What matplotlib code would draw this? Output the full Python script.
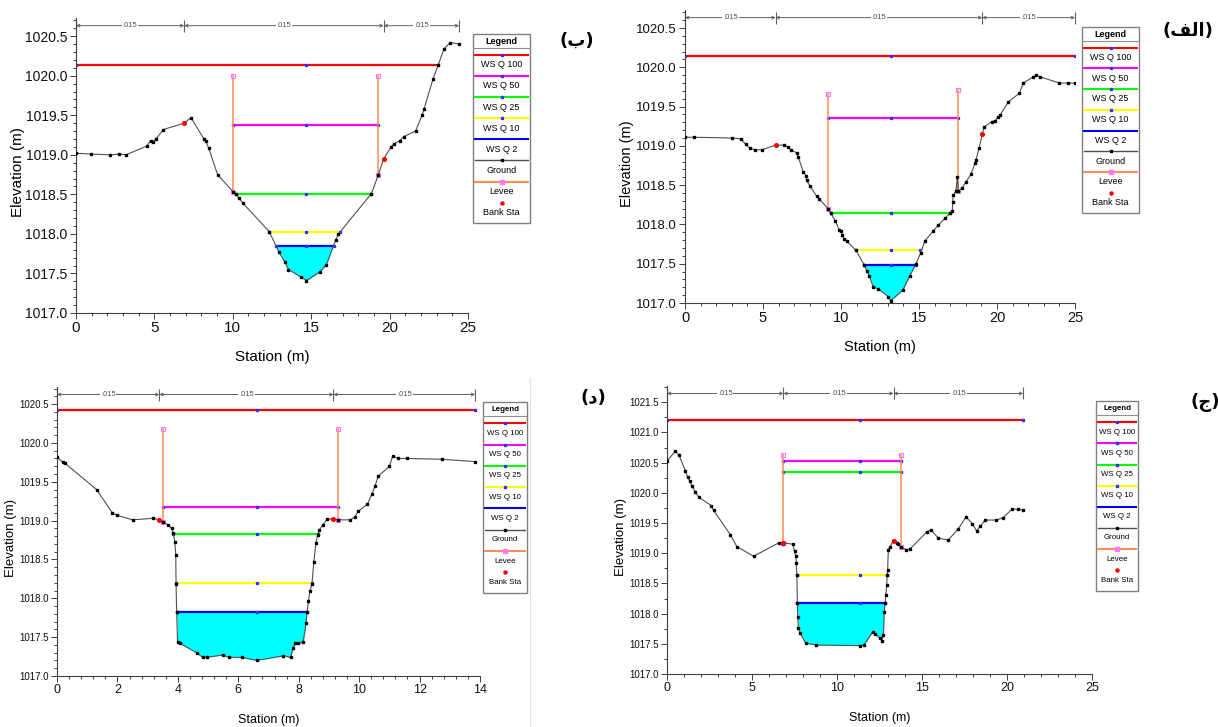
import numpy as np
import matplotlib
matplotlib.use("Agg")
import matplotlib.pyplot as plt
import matplotlib.transforms as mtransforms
from matplotlib.ticker import MultipleLocator, FormatStrFormatter
from matplotlib.patches import Rectangle
from matplotlib.lines import Line2D

# ---------------- data ----------------
ws_names = ["WS Q 100", "WS Q 50", "WS Q 25", "WS Q 10", "WS Q 2"]
legend_labels = ws_names + ["Ground", "Levee", "Bank Sta"]
n_values = [".015", ".015", ".015"]

# panel (الف)
alef_sta = [0.0, 0.60, 3.03, 3.59, 3.89, 4.17, 4.49, 4.91, 5.81, 6.37,
            6.58, 6.79, 7.16, 7.26, 7.58, 7.76, 7.80, 8.01, 8.44, 8.59,
            9.17, 9.36, 9.62, 9.89, 10.00, 10.09, 10.21, 10.36, 10.96, 11.50,
            11.65, 11.82, 12.07, 12.39, 13.03, 13.18, 13.95, 14.42, 14.81, 15.11,
            15.38, 15.92, 16.24, 16.67, 16.99, 17.14, 17.16, 17.20, 17.37, 17.46,
            17.52, 17.74, 18.01, 18.33, 18.59, 18.65, 18.85, 19.06, 19.17, 19.66,
            19.87, 20.09, 20.19, 20.73, 21.43, 21.69, 22.33, 22.50, 22.76, 24.00,
            24.57, 25.00]
alef_elev = [1019.11, 1019.11, 1019.10, 1019.09, 1019.02, 1018.97, 1018.95, 1018.95, 1019.01, 1019.01,
             1018.99, 1018.95, 1018.91, 1018.86, 1018.67, 1018.62, 1018.56, 1018.49, 1018.36, 1018.33,
             1018.20, 1018.14, 1018.05, 1017.93, 1017.92, 1017.86, 1017.81, 1017.79, 1017.67, 1017.48,
             1017.41, 1017.34, 1017.20, 1017.18, 1017.08, 1017.03, 1017.16, 1017.35, 1017.50, 1017.64,
             1017.79, 1017.92, 1017.99, 1018.08, 1018.14, 1018.17, 1018.29, 1018.37, 1018.43, 1018.61,
             1018.42, 1018.46, 1018.54, 1018.64, 1018.78, 1018.82, 1018.97, 1019.15, 1019.24, 1019.31,
             1019.32, 1019.37, 1019.39, 1019.56, 1019.67, 1019.80, 1019.88, 1019.90, 1019.88, 1019.80,
             1019.80, 1019.80]
alef_banks = [5.81, 19.06]
alef_levee_sta = [9.17, 17.52]
alef_levee_top = [1019.66, 1019.71]
alef_ws = [1020.14, 1019.35, 1018.14, 1017.67, 1017.48]
alef_ws_left = [0.0, 9.17, 9.36, 10.96, 11.50]
alef_ws_right = [25.0, 17.52, 16.99, 15.06, 14.81]

# panel (ب)
be_sta = [0.0, 0.93, 2.17, 2.74, 3.19, 4.50, 4.76, 4.89, 5.10, 5.57,
          6.90, 7.33, 8.16, 8.26, 8.47, 9.03, 10.03, 10.20, 10.39, 10.64,
          12.32, 12.94, 13.30, 13.55, 14.38, 14.70, 15.55, 15.97, 16.55, 16.74,
          18.84, 19.27, 19.62, 20.11, 20.28, 20.65, 20.90, 21.66, 22.07, 22.20,
          22.77, 23.09, 23.47, 23.87, 24.43]
be_elev = [1019.02, 1019.01, 1019.00, 1019.01, 1019.00, 1019.11, 1019.18, 1019.16, 1019.20, 1019.32,
           1019.40, 1019.47, 1019.20, 1019.18, 1019.08, 1018.75, 1018.53, 1018.50, 1018.45, 1018.39,
           1018.03, 1017.77, 1017.65, 1017.55, 1017.45, 1017.41, 1017.52, 1017.61, 1017.92, 1018.00,
           1018.51, 1018.74, 1018.95, 1019.10, 1019.14, 1019.18, 1019.23, 1019.30, 1019.50, 1019.58,
           1019.96, 1020.13, 1020.34, 1020.42, 1020.40]
be_banks = [6.90, 19.62]
be_levee_sta = [10.03, 19.27]
be_levee_top = [1020.0, 1020.0]
be_ws = [1020.13, 1019.38, 1018.50, 1018.03, 1017.85]
be_ws_left = [0.0, 10.03, 10.20, 12.32, 12.77]
be_ws_right = [23.09, 19.27, 18.80, 16.82, 16.44]

# panel (ج)
jim_sta = [0.0, 0.49, 0.69, 1.08, 1.21, 1.33, 1.47, 1.66, 1.86, 2.60,
           2.74, 3.72, 4.11, 5.09, 6.56, 6.81, 6.91, 7.40, 7.50, 7.58,
           7.60, 7.64, 7.67, 7.69, 7.73, 7.83, 8.16, 8.77, 11.35, 11.59,
           12.10, 12.24, 12.53, 12.63, 12.73, 12.78, 12.82, 12.88, 12.92, 12.96,
           12.98, 13.02, 13.12, 13.31, 13.51, 13.61, 13.74, 14.06, 14.29, 15.27,
           15.52, 15.96, 16.54, 17.13, 17.58, 17.97, 18.21, 18.44, 18.70, 19.38,
           19.77, 20.30, 20.65, 20.95]
jim_elev = [1020.53, 1020.69, 1020.63, 1020.37, 1020.26, 1020.20, 1020.11, 1020.02, 1019.93, 1019.79,
            1019.71, 1019.31, 1019.11, 1018.95, 1019.17, 1019.16, 1019.17, 1019.15, 1019.03, 1018.95,
            1018.84, 1018.64, 1018.17, 1017.95, 1017.76, 1017.68, 1017.51, 1017.48, 1017.47, 1017.48,
            1017.70, 1017.67, 1017.59, 1017.55, 1017.64, 1018.03, 1018.17, 1018.31, 1018.48, 1018.64,
            1018.73, 1019.06, 1019.11, 1019.20, 1019.17, 1019.15, 1019.11, 1019.06, 1019.07, 1019.35,
            1019.39, 1019.25, 1019.22, 1019.40, 1019.60, 1019.49, 1019.37, 1019.45, 1019.55, 1019.55,
            1019.59, 1019.73, 1019.73, 1019.71]
jim_banks = [6.85, 13.33]
jim_levee_sta = [6.85, 13.74]
jim_levee_top = [1020.63, 1020.63]
jim_ws = [1021.21, 1020.52, 1020.34, 1018.64, 1018.17]
jim_ws_left = [0.0, 6.85, 6.85, 7.64, 7.67]
jim_ws_right = [20.95, 13.74, 13.74, 12.96, 12.82]

# panel (د)
dal_sta = [0.0, 0.19, 0.26, 1.31, 1.83, 1.97, 2.50, 3.19, 3.39, 3.52,
           3.66, 3.80, 3.84, 3.90, 3.93, 3.94, 3.96, 3.99, 4.07, 4.62,
           4.82, 4.95, 5.48, 5.70, 6.11, 6.61, 7.49, 7.73, 7.82, 7.88,
           7.99, 8.15, 8.24, 8.28, 8.32, 8.37, 8.44, 8.50, 8.57, 8.63,
           8.68, 8.81, 8.95, 9.15, 9.31, 9.70, 9.86, 9.97, 10.27, 10.42,
           10.52, 10.63, 11.00, 11.11, 11.30, 11.57, 12.73, 13.84]
dal_elev = [1019.82, 1019.75, 1019.74, 1019.40, 1019.10, 1019.07, 1019.01, 1019.03, 1019.01, 1018.98,
            1018.95, 1018.90, 1018.84, 1018.73, 1018.56, 1018.19, 1017.83, 1017.44, 1017.42, 1017.30,
            1017.24, 1017.24, 1017.27, 1017.24, 1017.24, 1017.20, 1017.26, 1017.24, 1017.36, 1017.42,
            1017.42, 1017.44, 1017.68, 1017.83, 1017.96, 1018.09, 1018.19, 1018.47, 1018.71, 1018.82,
            1018.88, 1018.95, 1019.02, 1019.02, 1019.01, 1019.01, 1019.05, 1019.12, 1019.21, 1019.34,
            1019.44, 1019.57, 1019.70, 1019.83, 1019.80, 1019.80, 1019.79, 1019.76]
dal_banks = [3.39, 9.15]
dal_levee_sta = [3.52, 9.31]
dal_levee_top = [1020.18, 1020.18]
dal_ws = [1020.43, 1019.17, 1018.83, 1018.20, 1017.83]
dal_ws_left = [0.0, 3.52, 3.84, 3.94, 3.96]
dal_ws_right = [13.84, 9.31, 8.63, 8.44, 8.28]

# ---------------- styles ----------------
ws_colors = ["#ff0000", "#ff00ff", "#00ff00", "#ffff00", "#0000ff"]
ground_color = "#505050"
levee_color = "#ff8c55"
levee_mark = "#ff77ff"
W, H = 1218, 727
font = "Liberation Sans"
plt.rcParams["font.family"] = [font, "DejaVu Sans"]

fig = plt.figure(figsize=(W / 100, H / 100), dpi=100)


def px_axes(left, top, right, bottom):
    return fig.add_axes([left / W, 1 - bottom / H, (right - left) / W, (bottom - top) / H])


def draw_section(ax, sta, elev, banks, lev_sta, lev_top, ws, ws_l, ws_r,
                 fs, xfs, xmax, ytop, xmaj, xmin, ymin):
    sta = np.array(sta)
    elev = np.array(elev)
    ax.set_xlim(0, xmax)
    ax.set_ylim(1017.0, ytop)

    # water fill under the lowest WS
    l, r = ws_l[-1], ws_r[-1]
    inside = (sta > l) & (sta < r)
    fx = np.concatenate([[l], sta[inside], [r]])
    fy = np.concatenate([[np.interp(l, sta, elev)], elev[inside], [np.interp(r, sta, elev)]])
    ax.fill_between(fx, fy, ws[-1], color="#00ffff", lw=0, zorder=1)

    # water surfaces
    thalweg = sta[np.argmin(elev)]
    for i, (z, a, b) in enumerate(zip(ws, ws_l, ws_r)):
        ax.plot([a, b], [z, z], color=ws_colors[i], lw=1.6, zorder=2)
        ax.plot([a, thalweg, b], [z, z, z], ls="none", marker="s", ms=1.4,
                color="#3030ff", zorder=2.5)

    # levees
    for s, top in zip(lev_sta, lev_top):
        bot = np.interp(s, sta, elev)
        ax.plot([s, s], [bot, top], color=levee_color, lw=1.1, zorder=3)
        ax.plot([s, s], [bot, top], ls="none", marker="s", ms=3.0, mfc="none",
                mec=levee_mark, mew=0.8, zorder=3.5)

    # ground
    ax.plot(sta, elev, color=ground_color, lw=0.8, marker="s", ms=2.0,
            mfc="black", mec="black", zorder=4)
    ax.plot(banks, np.interp(banks, sta, elev), ls="none", marker="o", ms=2.6,
            color="#ff0000", zorder=5)

    # Manning's n bar
    trans = mtransforms.blended_transform_factory(ax.transData, ax.transAxes)
    edges = [sta[0]] + list(banks) + [sta[-1]]
    ybar = 0.974
    for a, b, n in zip(edges[:-1], edges[1:], n_values):
        ax.annotate("", xy=(a, ybar), xytext=(b, ybar), xycoords=trans, textcoords=trans,
                    arrowprops=dict(arrowstyle="<->", color="#606060", lw=0.7,
                                    shrinkA=0, shrinkB=0, mutation_scale=5))
        ax.text((a + b) / 2, ybar, n, transform=trans, ha="center", va="center",
                fontsize=5.5, color="#505050",
                bbox=dict(facecolor="white", edgecolor="none", pad=0.6))
    ax.plot(edges, [ybar] * len(edges), transform=trans, ls="none", marker="|",
            ms=8, mew=0.8, color="#606060", clip_on=False)

    for sp in ["top", "right"]:
        ax.spines[sp].set_visible(False)
    for sp in ["left", "bottom"]:
        ax.spines[sp].set_color("#404040")
        ax.spines[sp].set_linewidth(0.8)
    ax.xaxis.set_major_locator(MultipleLocator(xmaj))
    ax.xaxis.set_minor_locator(MultipleLocator(xmin))
    ax.yaxis.set_major_locator(MultipleLocator(0.5))
    ax.yaxis.set_minor_locator(MultipleLocator(ymin))
    ax.yaxis.set_major_formatter(FormatStrFormatter("%.1f"))
    ax.tick_params(which="both", direction="out", colors="#404040", width=0.7,
                   labelcolor="#111111", pad=2)
    ax.tick_params(axis="y", labelsize=fs)
    ax.tick_params(axis="x", labelsize=xfs)
    ax.tick_params(which="major", length=4)
    ax.tick_params(which="minor", length=2)


def draw_legend(box, fs):
    lax = px_axes(*box)
    lax.set_xlim(0, 1)
    lax.set_ylim(1, 0)
    lax.axis("off")
    lax.add_patch(Rectangle((0, 0), 1, 1, transform=lax.transAxes, fill=False,
                            ec="#808080", lw=1.0, clip_on=False))
    lax.text(0.5, 0.038, "Legend", ha="center", va="center", fontsize=fs,
             weight="bold")
    lax.plot([0, 1], [0.075, 0.075], color="#909090", lw=0.8)
    step = 0.1115
    for i, lab in enumerate(legend_labels):
        yl = step * (i + 1)
        if i < 5:
            lax.plot([0.04, 0.96], [yl, yl], color=ws_colors[i], lw=1.5)
            if i < 4:
                lax.plot(0.5, yl, marker="s", ms=1.5, color="#3030ff")
        elif i == 5:
            lax.plot([0.04, 0.96], [yl, yl], color=ground_color, lw=1.0)
            lax.plot(0.5, yl, marker="s", ms=2.0, color="black")
        elif i == 6:
            lax.plot([0.04, 0.96], [yl, yl], color=levee_color, lw=1.5)
            lax.plot(0.5, yl, marker="s", ms=3.0, color=levee_mark)
        else:
            lax.plot(0.5, yl, marker="o", ms=2.2, color="#ff0000")
        lax.text(0.5, yl + 0.052, lab, ha="center", va="center", fontsize=fs)


# (ب) top-left
ax1 = px_axes(76, 18, 468, 313)
draw_section(ax1, be_sta, be_elev, be_banks, be_levee_sta, be_levee_top,
             be_ws, be_ws_left, be_ws_right, 10, 11, 25, 1020.73, 5, 1, 0.1)
fig.text(18 / W, 1 - 172 / H, "Elevation (m)", rotation=90, ha="center", va="center",
         fontsize=11)
fig.text(272 / W, 1 - 357 / H, "Station (m)", ha="center", va="center", fontsize=11)
draw_legend((473, 34, 530, 223), 6.5)

# (الف) top-right
ax2 = px_axes(685, 10, 1075, 303)
draw_section(ax2, alef_sta, alef_elev, alef_banks, alef_levee_sta, alef_levee_top,
             alef_ws, alef_ws_left, alef_ws_right, 9.5, 10.5, 25, 1020.73, 5, 1, 0.1)
fig.text(627 / W, 1 - 164 / H, "Elevation (m)", rotation=90, ha="center", va="center",
         fontsize=10.5)
fig.text(880 / W, 1 - 347 / H, "Station (m)", ha="center", va="center", fontsize=10.5)
draw_legend((1082, 27, 1139, 213), 6.5)

# (د) bottom-left
ax3 = px_axes(57, 387, 480, 676)
draw_section(ax3, dal_sta, dal_elev, dal_banks, dal_levee_sta, dal_levee_top,
             dal_ws, dal_ws_left, dal_ws_right, 7, 9, 14, 1020.72, 2, 0.4, 0.1)
fig.text(11 / W, 1 - 538 / H, "Elevation (m)", rotation=90, ha="center", va="center",
         fontsize=9.5)
fig.text(269 / W, 1 - 720 / H, "Station (m)", ha="center", va="center", fontsize=9)
draw_legend((483, 402, 527, 593), 5.7)

# (ج) bottom-right
ax4 = px_axes(667, 386, 1092, 674)
draw_section(ax4, jim_sta, jim_elev, jim_banks, jim_levee_sta, jim_levee_top,
             jim_ws, jim_ws_left, jim_ws_right, 7, 9, 25, 1021.77, 5, 1, 0.25)
fig.text(621 / W, 1 - 537 / H, "Elevation (m)", rotation=90, ha="center", va="center",
         fontsize=9.5)
fig.text(880 / W, 1 - 718 / H, "Station (m)", ha="center", va="center", fontsize=9)
draw_legend((1096, 401, 1138, 591), 5.7)

# panel tags (Arabic, presentation forms so the letters join correctly)
tag_kw = dict(ha="center", va="center", fontsize=13, weight="bold", family=["DejaVu Sans"])
fig.text(577 / W, 1 - 41 / H, "(ب)", **tag_kw)
fig.text(1188 / W, 1 - 31 / H, "(\ufed2\ufedf\ufe8d)", **tag_kw)
fig.text(593 / W, 1 - 398 / H, "(د)", **tag_kw)
fig.text(1205 / W, 1 - 402 / H, "(ج)", **tag_kw)

# border of the pasted lower-left picture
fig.add_artist(Line2D([530 / W, 530 / W], [0, 1 - 378 / H], color="#e0e0e0", lw=0.8))

fig.savefig("out.png", dpi=100)
